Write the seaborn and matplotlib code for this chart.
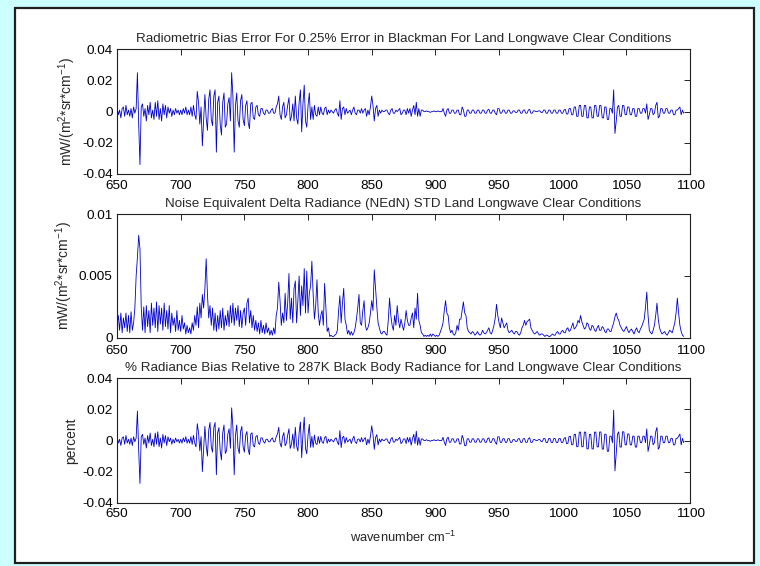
# Radiometric bias / NEdN / percent bias for land longwave clear conditions
import numpy as np
import pandas as pd
import seaborn as sns
import matplotlib.pyplot as plt
from matplotlib.patches import Rectangle
from matplotlib.ticker import FuncFormatter

# wavenumber grid (cm-1), read every 1 cm-1
wavenumber = np.arange(650, 1096, 1)

# radiometric bias error, units of 1e-3 mW/(m2 sr cm-1)
bias_mw = [
    3, -2, 1, -4, 2, 3, -3, 4, -2, 1,              # 650
    -3, 2, -4, 3, -1, 2, 25, -8, -34, 3,           # 660
    5, -3, 2, -6, 4, -2, 6, -4, 1, -5,             # 670
    6, -3, 7, -5, 2, -6, 5, -2, 4, -4,             # 680
    3, -1, 2, -3, 1, -2, 2, -1, 1, -2,             # 690
    1, -2, 2, -1, 3, -2, 1, -2, 3, -3,             # 700
    4, -2, -5, 13, 6, -8, 3, -22, -6, 11,          # 710
    -4, -12, 8, 14, -5, -9, 10, 14, -26, 6,        # 720
    10, -8, -15, 6, 12, -10, -8, 5, 9, -6,         # 730
    25, 10, -26, 4, 12, -6, -10, 7, 11, -5,        # 740
    -9, 4, 7, -7, -11, 5, 6, -4, -5, 3,            # 750
    4, -2, -3, 2, 2, -1, -2, 1, 1, -1,             # 760
    -1, 1, 2, -1, -1, 3, 5, 10, -2, -5,            # 770
    3, 6, -4, -2, 4, 9, -6, -3, 5, -6,             # 780
    10, -4, -8, 6, 14, -13, 5, 17, -6, -10,        # 790
    4, 12, -5, 3, -5, 4, -2, -3, 3, -2,            # 800
    3, -1, -2, 2, 3, -2, 1, -1, 1, 0,              # 810
    -1, 1, 2, -1, -3, 7, -5, 2, 3, -2,             # 820
    2, -1, 0, 1, -2, 1, 3, -1, -2, 1,              # 830
    1, -1, 2, -1, 1, 2, -3, 1, -2, 3,              # 840
    10, 4, -6, 2, 4, -3, 1, -1, 1, 0,              # 850
    0, 1, 1, -1, -2, 1, 2, -1, -1, 1,              # 860
    0, 1, 2, -2, -1, 1, 1, -2, 2, -1,              # 870
    2, -3, 1, 4, -2, 6, -3, 2, -3, 1,              # 880
    1, 0, 0, 0.5, 0, 0, -0.5, 0, 0, 0.5,           # 890
    0, 0, 0.5, 0, 0, 0, 2, -1, -3, 1,              # 900
    2, -1, -1, 1, 1, -1, -1, 1, 1, -2,             # 910
    -2, 3, 1, -3, -3, 1, 1, -1, -1, 1,             # 920
    1, -1, -1, 1, 1, -1, -1, 1, 1, -1,             # 930
    -1, 1, 1.5, -1, -1, 1, 1, -1, -2, 2,           # 940
    2, -1, -1, 1, 1, -1, -1, 1, 1, -1,             # 950
    -1, 0.5, 0.5, -0.5, -0.5, 1, 1, -1, -1, 1,     # 960
    1, -1, -1, 1, 1.5, -1, -1, 0.5, 0.5, 0,        # 970
    0, 0.5, 0.5, -0.5, -0.5, 1, 1, -1, -1, 1,      # 980
    1, -1, -1, 1, 1, -1, -1, 1, 1, -1,             # 990
    -1, 1, 1.5, -1.5, -1.5, 2, 2, -2, -2, 3,       # 1000
    3, -3, -3, 4, 4, -3, -3, 4, 4, -4,             # 1010
    -4, 3, 3, -4, -4, 4, 4, -3, -3, 4,             # 1020
    4, -4, -4, 3, 3, -5, -5, 2, 2, -1,             # 1030
    14, -14, -6, 3, 4, -3, -3, 4, 4, -2,           # 1040
    -2, 3, 3, -2, -2, 2, 2, -3, -3, 2,             # 1050
    2, -1, -1, 2, 2, -1, 5, -5, -2, 2,             # 1060
    2, -2, -1, 4, 6, -4, -3, 2, 2, -1,             # 1070
    -1, 2, 2, -1, -1, 1, 1, -2, -2, 1,             # 1080
    1, 2, 3, -2, 1, -1,                            # 1090
]

# NEdN standard deviation, units of 1e-3 mW/(m2 sr cm-1)
nedn = [
    1.0, 1.8, 0.6, 2.0, 0.4, 1.6, 0.8, 2.0, 0.5, 1.8,   # 650
    0.4, 2.1, 0.6, 1.2, 2.4, 5.0, 6.5, 8.3, 7.2, 2.5,   # 660
    0.6, 2.5, 0.4, 2.6, 0.9, 2.2, 0.4, 2.8, 1.0, 2.4,   # 670
    0.8, 2.9, 0.5, 2.6, 1.1, 2.4, 0.6, 2.8, 0.9, 2.2,   # 680
    0.7, 2.6, 0.4, 2.0, 1.0, 1.6, 0.5, 2.2, 0.6, 1.4,   # 690
    0.5, 1.8, 0.7, 1.2, 0.3, 1.0, 0.4, 0.8, 0.3, 1.2,   # 700
    0.6, 1.8, 1.0, 2.5, 0.8, 2.8, 1.6, 3.5, 2.4, 4.0,   # 710
    6.4, 3.5, 1.6, 2.6, 1.0, 2.4, 0.6, 2.0, 0.5, 1.8,   # 720
    0.7, 2.2, 0.8, 2.4, 0.6, 1.8, 1.0, 2.2, 0.9, 2.6,   # 730
    1.2, 2.8, 1.0, 2.4, 1.4, 2.6, 0.9, 2.2, 0.8, 2.0,   # 740
    2.4, 1.0, 2.8, 3.2, 1.2, 2.2, 0.8, 1.8, 0.6, 1.4,   # 750
    0.5, 1.2, 0.3, 1.4, 0.4, 1.0, 0.3, 1.2, 0.4, 0.8,   # 760
    0.2, 0.6, 0.2, 0.8, 0.3, 1.8, 2.4, 4.5, 3.0, 1.0,   # 770
    2.0, 1.2, 3.6, 1.4, 2.8, 5.2, 1.5, 3.2, 1.2, 4.0,   # 780
    4.6, 1.2, 3.0, 5.0, 1.8, 4.2, 2.6, 5.6, 2.0, 5.4,   # 790
    2.0, 3.6, 4.2, 6.2, 3.5, 1.5, 2.6, 4.7, 2.0, 1.0,   # 800
    1.8, 2.2, 1.0, 4.4, 2.5, 0.5, 0.8, 0.1, 0.2, 0.1,   # 810
    0.1, 0.2, 0.3, 0.6, 2.2, 3.4, 1.2, 2.8, 4.0, 1.5,   # 820
    1.0, 0.3, 0.6, 0.2, 0.5, 0.2, 0.4, 0.8, 1.5, 2.4,   # 830
    3.5, 1.2, 1.0, 2.2, 3.0, 1.0, 0.6, 0.8, 1.2, 2.0,   # 840
    3.0, 2.2, 5.5, 4.0, 2.5, 1.2, 0.8, 0.4, 0.3, 0.5,   # 850
    0.5, 0.3, 0.2, 1.4, 3.2, 1.8, 1.0, 0.6, 1.8, 1.0,   # 860
    2.6, 1.4, 0.8, 1.5, 1.0, 0.6, 1.2, 2.2, 1.4, 1.0,   # 870
    1.0, 1.6, 2.0, 0.8, 2.4, 1.5, 3.6, 1.4, 1.0, 0.4,   # 880
    0.3, 0.1, 0.2, 0.1, 0.2, 0.1, 0.3, 0.1, 0.3, 0.2,   # 890
    0.1, 0.2, 0.1, 0.2, 0.5, 0.8, 1.2, 2.2, 3.0, 2.0,   # 900
    1.8, 0.8, 0.4, 0.6, 0.3, 0.2, 0.4, 1.0, 0.6, 1.5,   # 910
    1.5, 2.2, 2.9, 2.0, 1.8, 0.8, 0.5, 0.4, 0.3, 0.5,   # 920
    0.4, 0.2, 0.3, 0.5, 0.3, 0.2, 0.3, 0.6, 0.4, 0.3,   # 930
    0.4, 0.6, 0.8, 0.4, 0.3, 0.6, 1.0, 1.6, 2.7, 1.8,   # 940
    1.2, 0.8, 1.6, 1.2, 0.8, 1.0, 1.2, 0.6, 0.4, 0.5,   # 950
    0.6, 0.4, 0.3, 0.5, 0.5, 0.3, 0.2, 0.4, 0.8, 1.0,   # 960
    1.4, 1.0, 1.3, 1.4, 1.5, 0.8, 0.6, 0.4, 0.3, 0.4,   # 970
    0.5, 0.3, 0.2, 0.3, 0.3, 0.2, 0.1, 0.2, 0.2, 0.1,   # 980
    0.1, 0.2, 0.3, 0.2, 0.2, 0.4, 0.5, 0.3, 0.3, 0.5,   # 990
    0.6, 0.4, 0.4, 0.7, 0.8, 0.5, 0.6, 0.9, 1.2, 0.7,   # 1000
    0.8, 1.0, 1.4, 1.2, 1.8, 1.3, 1.0, 0.7, 0.8, 1.2,   # 1010
    1.1, 0.7, 0.6, 1.0, 0.9, 0.6, 0.5, 0.8, 1.0, 0.6,   # 1020
    0.6, 0.9, 0.8, 0.5, 0.4, 0.7, 0.7, 0.5, 0.5, 0.9,   # 1030
    1.2, 1.7, 2.0, 1.6, 1.4, 1.0, 0.8, 0.6, 0.5, 0.7,   # 1040
    0.9, 0.6, 0.4, 0.6, 0.7, 0.5, 0.3, 0.6, 0.8, 0.5,   # 1050
    0.4, 0.7, 0.9, 1.2, 1.5, 2.5, 3.7, 1.8, 0.6, 0.4,   # 1060
    0.3, 0.6, 1.0, 1.8, 2.8, 1.5, 0.8, 0.5, 0.3, 0.4,   # 1070
    0.5, 0.3, 0.2, 0.4, 0.6, 0.5, 0.4, 0.8, 1.2, 2.0,   # 1080
    3.2, 2.0, 1.0, 0.5, 0.2, 0.1,                       # 1090
]

# percent radiance bias, units of 1e-3 percent
bias_pct = [
    2.4, -1.6, 0.8, -3.2, 1.6, 2.4, -2.4, 3.2, -1.6, 0.8,        # 650
    -2.4, 1.6, -3.2, 2.4, -0.8, 1.6, 19, -6.4, -27.6, 2.4,       # 660
    4, -2.4, 1.6, -4.8, 3.2, -1.6, 4.8, -3.2, 0.8, -4,           # 670
    4.8, -2.4, 5.6, -4, 1.6, -4.8, 4, -1.6, 3.2, -3.2,           # 680
    2.4, -0.8, 1.6, -2.4, 0.8, -1.6, 1.6, -0.8, 0.8, -1.6,       # 690
    0.8, -1.7, 1.7, -0.8, 2.5, -1.7, 0.8, -1.7, 2.5, -2.5,       # 700
    3.3, -1.7, -4.1, 10.8, 5, -6.6, 2.5, -20, -5, 9.1,           # 710
    -3.3, -10, 6.6, 11.6, -4.1, -7.5, 8.3, 11.6, -22, 5,         # 720
    8.3, -6.6, -12.5, 5, 10, -8.3, -6.6, 4.1, 7.5, -5,           # 730
    21, 8.3, -22, 3.3, 10, -5, -8.3, 5.8, 9.1, -4.1,             # 740
    -7.5, 3.3, 5.8, -5.8, -9.1, 4.1, 5, -3.3, -4.1, 2.5,         # 750
    3.3, -1.7, -2.5, 1.7, 1.7, -0.8, -1.7, 0.8, 0.8, -0.8,       # 760
    -0.8, 0.8, 1.7, -0.8, -0.8, 2.5, 4.2, 8.5, -1.7, -4.2,       # 770
    2.5, 5.1, -3.4, -1.7, 3.4, 7.6, -5.1, -2.5, 4.2, -5.1,       # 780
    8.5, -3.4, -6.8, 5.1, 11.9, -11, 4.2, 15, -5.1, -8.5,        # 790
    3.5, 10.4, -4.4, 2.6, -4.4, 3.5, -1.8, -2.6, 2.6, -1.8,      # 800
    2.7, -0.9, -1.8, 1.8, 2.7, -1.8, 0.9, -0.9, 0.9, 0,          # 810
    -0.9, 0.9, 1.8, -0.9, -2.7, 6.3, -4.5, 1.8, 2.8, -1.9,       # 820
    1.9, -0.9, 0, 0.9, -1.9, 0.9, 2.8, -0.9, -1.9, 0.9,          # 830
    0.9, -0.9, 1.9, -0.9, 0.9, 1.9, -2.8, 0.9, -1.9, 2.8,        # 840
    9.5, 3.8, -5.7, 1.9, 3.8, -2.9, 1, -1, 1, 0,                 # 850
    0, 1, 1, -1, -2, 1, 2, -1, -1, 1,                            # 860
    0, 1, 2, -2, -1, 1, 1, -2, 2, -1,                            # 870
    2, -3, 1, 4, -2, 6, -3, 2, -3, 1,                            # 880
    1, 0, 0, 0.5, 0, 0, -0.5, 0, 0, 0.5,                         # 890
    0, 0, 0.5, 0, 0, 0, 2.1, -1.1, -3.2, 1.1,                    # 900
    2.2, -1.1, -1.1, 1.1, 1.1, -1.1, -1.1, 1.1, 1.1, -2.2,       # 910
    -2.2, 3.3, 1.1, -3.3, -3.3, 1.1, 1.1, -1.1, -1.1, 1.1,       # 920
    1.1, -1.1, -1.1, 1.1, 1.1, -1.1, -1.1, 1.1, 1.1, -1.1,       # 930
    -1.2, 1.2, 1.7, -1.2, -1.2, 1.2, 1.2, -1.2, -2.4, 2.4,       # 940
    2.4, -1.2, -1.2, 1.2, 1.2, -1.2, -1.2, 1.2, 1.2, -1.2,       # 950
    -1.2, 0.6, 0.6, -0.6, -0.6, 1.2, 1.2, -1.2, -1.2, 1.2,       # 960
    1.2, -1.2, -1.2, 1.2, 1.8, -1.2, -1.2, 0.6, 0.6, 0,          # 970
    0, 0.6, 0.6, -0.6, -0.6, 1.3, 1.3, -1.3, -1.3, 1.3,          # 980
    1.3, -1.3, -1.3, 1.3, 1.3, -1.3, -1.3, 1.3, 1.3, -1.3,       # 990
    -1.3, 1.3, 2, -2, -2, 2.7, 2.7, -2.7, -2.7, 4,               # 1000
    4, -4, -4, 5.4, 5.4, -4, -4, 5.4, 5.4, -5.4,                 # 1010
    -5.4, 4, 4, -5.4, -5.4, 5.4, 5.4, -4.1, -4.1, 5.5,           # 1020
    5.5, -5.5, -5.5, 4.1, 4.1, -6.9, -6.9, 2.8, 2.8, -1.4,       # 1030
    19.5, -19.5, -8.4, 4.2, 5.6, -4.2, -4.2, 5.6, 5.6, -2.8,     # 1040
    -2.8, 4.2, 4.2, -2.8, -2.8, 2.8, 2.8, -4.2, -4.2, 2.8,       # 1050
    2.8, -1.4, -1.4, 2.8, 2.8, -1.4, 7.5, -7, -2.8, 2.8,         # 1060
    2.8, -2.8, -1.4, 5.6, 8.4, -5.6, -4.2, 2.8, 2.8, -1.4,       # 1070
    -1.4, 2.8, 2.8, -1.4, -1.4, 1.4, 1.4, -2.8, -2.8, 1.4,       # 1080
    1.4, 2.8, 4.2, -2.8, 1.4, -1.4,                              # 1090
]

titles = [
    "Radiometric Bias Error For 0.25% Error in Blackman For Land Longwave Clear Conditions",
    "Noise Equivalent Delta Radiance (NEdN) STD Land Longwave Clear Conditions",
    "% Radiance Bias Relative to 287K Black Body Radiance for Land Longwave Clear Conditions",
]
unit_label = r"mW/(m$^{\mathregular{2}}$*sr*cm$^{\mathregular{-1}}$)"
ylabels = [unit_label, unit_label, "percent"]
yticks = [[-0.04, -0.02, 0, 0.02, 0.04], [0, 0.005, 0.01], [-0.04, -0.02, 0, 0.02, 0.04]]
xticks = list(range(650, 1101, 50))

df = pd.DataFrame({
    "wavenumber": wavenumber,
    "bias": np.array(bias_mw) * 1e-3,
    "nedn": np.array(nedn) * 1e-3,
    "pct": np.array(bias_pct) * 1e-3,
})

sns.set_style("white")
plt.rcParams["font.family"] = ["Liberation Sans", "DejaVu Sans"]
plt.rcParams["font.size"] = 9

fig = plt.figure(figsize=(7.6, 5.66), dpi=100, facecolor="#ccffff")
fig.patches.append(Rectangle((15 / 760, 3 / 566), 739 / 760, 555 / 566,
                             transform=fig.transFigure, facecolor="white",
                             edgecolor="#202020", linewidth=1.6, zorder=-1))

boxes = [
    [0.154, 0.6926, 0.754, 0.2203],
    [0.154, 0.4034, 0.754, 0.2180],
    [0.154, 0.1118, 0.754, 0.2198],
]
cols = ["bias", "nedn", "pct"]

for i in range(3):
    ax = fig.add_axes(boxes[i])
    sns.lineplot(data=df, x="wavenumber", y=cols[i], ax=ax, color="#0000cc",
                 linewidth=0.6, estimator=None)
    ax.set_xlim(650, 1100)
    ax.set_ylim(yticks[i][0], yticks[i][-1])
    ax.set_xticks(xticks)
    ax.set_yticks(yticks[i])
    ax.yaxis.set_major_formatter(FuncFormatter(lambda v, p: "%g" % v))
    ax.tick_params(direction="in", length=4, width=0.6, top=True, right=True,
                   labelsize=9.7, colors="black")
    # middle panel: "0" sits right on the corner, keep 650 clear of it
    ax.tick_params(axis="x", pad=5.5 if i == 1 else 4)
    ax.tick_params(axis="y", pad=3)
    for s in ax.spines.values():
        s.set_visible(True)
        s.set_color("#202020")
        s.set_linewidth(0.8)
    ax.set_title(titles[i], fontsize=9.6, pad=5)
    ax.set_ylabel(ylabels[i], fontsize=10, labelpad=3)
    ax.set_xlabel("")

ax.set_xlabel(r"wavenumber cm$^{\mathregular{-1}}$", fontsize=9.3, labelpad=7)

plt.savefig("out.png", dpi=100, facecolor=fig.get_facecolor())
